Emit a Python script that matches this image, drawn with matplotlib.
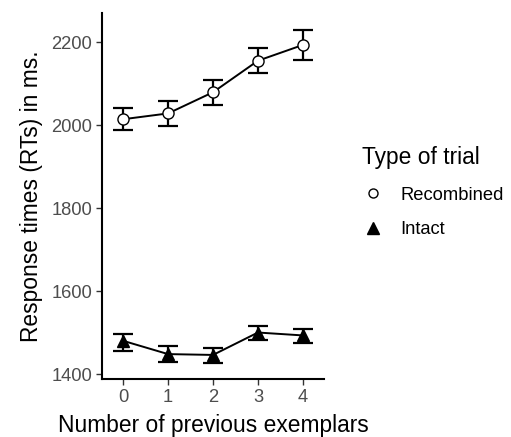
import numpy as np
import matplotlib
matplotlib.use("Agg")
import matplotlib.pyplot as plt
from matplotlib.lines import Line2D

plt.rcParams['font.family'] = ['Liberation Sans', 'DejaVu Sans']

# data
exemplars = [0, 1, 2, 3, 4]
recombined_mean = [2014, 2028, 2079, 2155, 2193]
recombined_low = [1987, 1998, 2048, 2126, 2157]
recombined_high = [2042, 2058, 2108, 2186, 2230]
intact_mean = [1480, 1448, 1446, 1500, 1493]
intact_low = [1456, 1428, 1427, 1482, 1474]
intact_high = [1496, 1467, 1463, 1516, 1508]

fig = plt.figure(figsize=(5.11, 4.37), dpi=100)
ax = fig.add_axes([102 / 511, 1 - 379 / 437, 222 / 511, 366 / 437])

def draw(mean, low, high, marker, face):
    mean = np.array(mean)
    yerr = [mean - np.array(low), np.array(high) - mean]
    ax.errorbar(exemplars, mean, yerr=yerr, fmt='none', ecolor='black',
                elinewidth=1.6, capsize=7.5, capthick=1.6, zorder=2)
    ax.plot(exemplars, mean, color='black', linewidth=1.4, zorder=3)
    ax.plot(exemplars, mean, linestyle='none', marker=marker, markersize=8,
            markerfacecolor=face, markeredgecolor='black', markeredgewidth=1.0, zorder=4)

draw(recombined_mean, recombined_low, recombined_high, 'o', 'white')
draw(intact_mean, intact_low, intact_high, '^', 'black')

ax.set_xlim(-0.47, 4.47)
ax.set_ylim(1388, 2270)
ax.set_xticks(exemplars)
ax.set_yticks([1400, 1600, 1800, 2000, 2200])
ax.spines['top'].set_visible(False)
ax.spines['right'].set_visible(False)
ax.spines['left'].set_linewidth(1.5)
ax.spines['bottom'].set_linewidth(1.5)
ax.tick_params(axis='both', length=4, width=1, color='#333333',
               labelcolor='#4D4D4D', labelsize=13.2, pad=3)

ax.set_xlabel('Number of previous exemplars', fontsize=16.4, labelpad=6)
ax.set_ylabel('Response times (RTs) in ms.', fontsize=16.4, labelpad=6)

handles = [
    Line2D([], [], linestyle='none', marker='o', markersize=6.5,
           markerfacecolor='white', markeredgecolor='black', markeredgewidth=1.0),
    Line2D([], [], linestyle='none', marker='^', markersize=8,
           markerfacecolor='black', markeredgecolor='black'),
]
leg = fig.legend(handles, ['Recombined', 'Intact'], title='Type of trial',
                 loc='upper left', bbox_to_anchor=(345 / 511, 1 - 130 / 437),
                 frameon=False, fontsize=13.2, title_fontsize=16.4,
                 alignment='left', handletextpad=0.9, labelspacing=0.95,
                 handlelength=1.2)

fig.savefig('out.png', dpi=100)
